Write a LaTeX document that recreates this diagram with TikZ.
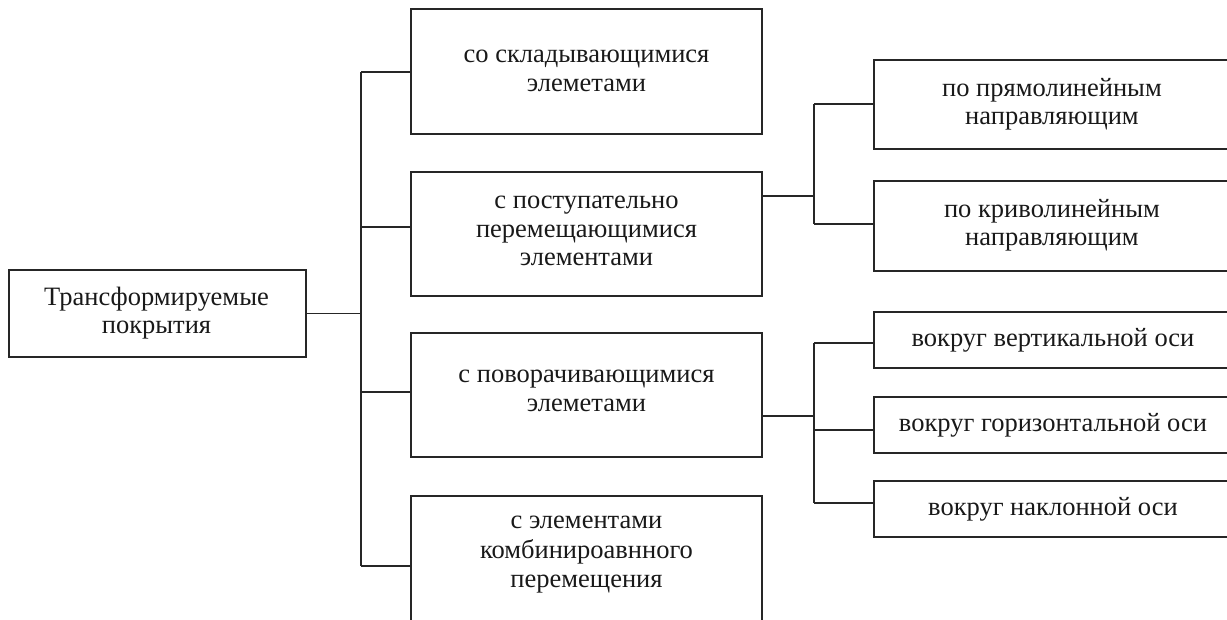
\documentclass[tikz,border=0pt]{standalone}
\usepackage{fontspec}
\setmainfont{Liberation Serif}
\begin{document}
\begin{tikzpicture}[x=1pt,y=-1pt,
  box/.style={draw=black!85,line width=1.3pt,inner sep=0pt},
  lbl/.style={align=center,inner sep=0pt,text=black!90,
    font=\fontsize{26.5}{28.5}\selectfont},
  conn/.style={draw=black!85,line width=1.3pt}]
\useasboundingbox (0,0) rectangle (1227,619);
\begin{scope}
\clip (0,0) rectangle (1227,619);
% root
\node[box,minimum width=297pt,minimum height=87pt] (root) at (157.5,313.5) {};
\node[lbl] (roott) at (156.5,313) {Трансформируемые\\покрытия};
% level 1
\node[box,minimum width=351pt,minimum height=125pt] (a) at (586.5,71.5) {};
\node[lbl] (at) at (586.5,71) {со складывающимися\\элеметами};
\node[box,minimum width=351pt,minimum height=124pt] (b) at (586.5,234) {};
\node[lbl] (bt) at (586.5,231) {с поступательно\\перемещающимися\\элементами};
\node[box,minimum width=351pt,minimum height=124pt] (c) at (586.5,395) {};
\node[lbl] (ct) at (586.5,391) {с поворачивающимися\\элеметами};
\node[box,minimum width=351pt,minimum height=160pt] (d) at (586.5,576) {};
\node[lbl,font=\fontsize{26.5}{29.5}\selectfont] (dt) at (586.5,555) {с элементами\\комбинироавнного\\перемещения};
% level 2
\node[box,minimum width=370pt,minimum height=89pt] (b1) at (1059,104.5) {};
\node[lbl] (b1t) at (1052,104) {по прямолинейным\\направляющим};
\node[box,minimum width=370pt,minimum height=90pt] (b2) at (1059,226) {};
\node[lbl] (b2t) at (1052,225) {по криволинейным\\направляющим};
\node[box,minimum width=370pt,minimum height=56pt] (c1) at (1059,340) {};
\node[lbl] (c1t) at (1053,340) {вокруг вертикальной оси};
\node[box,minimum width=370pt,minimum height=56pt] (c2) at (1059,425) {};
\node[lbl] (c2t) at (1053,425) {вокруг горизонтальной оси};
\node[box,minimum width=370pt,minimum height=56pt] (c3) at (1059,509) {};
\node[lbl] (c3t) at (1053,509) {вокруг наклонной оси};
\end{scope}
% connectors
\coordinate (t1) at (361,72);
\coordinate (t2) at (361,566);
\draw[conn] (t1) -- (t2);
\draw[conn] (root.east) -- (root.east -| t1);
\draw[conn] (t1) -- (t1 -| a.west);
\draw[conn] (361,227) -- (361,227 -| b.west);
\draw[conn] (361,392) -- (361,392 -| c.west);
\draw[conn] (t2) -- (t2 -| d.west);
% sub trunk b
\coordinate (s1) at (814,104);
\coordinate (s2) at (814,224);
\draw[conn] (s1) -- (s2);
\draw[conn] (b.east |- 0,196) -- (814,196);
\draw[conn] (s1) -- (s1 -| b1.west);
\draw[conn] (s2) -- (s2 -| b2.west);
% sub trunk c
\coordinate (u1) at (814,343);
\coordinate (u2) at (814,503);
\draw[conn] (u1) -- (u2);
\draw[conn] (c.east |- 0,416) -- (814,416);
\draw[conn] (u1) -- (u1 -| c1.west);
\draw[conn] (814,430) -- (814,430 -| c2.west);
\draw[conn] (u2) -- (u2 -| c3.west);
\end{tikzpicture}
\end{document}
